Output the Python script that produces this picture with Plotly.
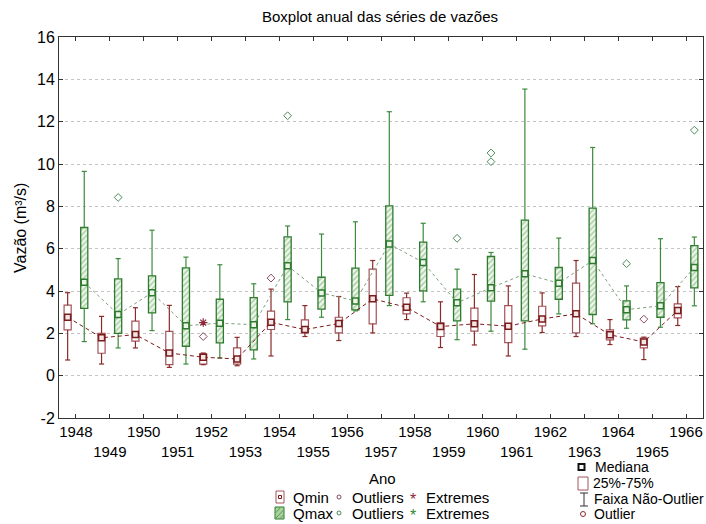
import plotly.graph_objects as go

# ---------------- data ----------------
years = list(range(1948, 1967))
tick_labels = [str(y) if i % 2 == 0 else "<br>" + str(y) for i, y in enumerate(years)]
y_ticks = list(range(-2, 17, 2))
y_tick_labels = [str(v) for v in y_ticks]

qmin_low = [0.74, 0.55, 1.31, 0.39, 0.52, 0.47, 0.93, 1.85, 1.66, 2.02, 2.65, 1.33, 1.45, 0.93, 2.04, 1.85, 1.47, 0.76, 2.37]
qmin_q1 = [2.16, 1.06, 1.63, 0.52, 0.55, 0.55, 2.18, 2.02, 2.02, 2.45, 2.92, 1.85, 2.10, 1.56, 2.35, 2.02, 1.69, 1.31, 2.73]
qmin_med = [2.76, 1.79, 1.94, 1.07, 0.87, 0.79, 2.52, 2.18, 2.46, 3.63, 3.23, 2.32, 2.45, 2.34, 2.68, 2.92, 1.93, 1.59, 3.08]
qmin_q3 = [3.33, 2.00, 2.58, 2.09, 1.03, 1.31, 3.05, 2.64, 2.76, 5.03, 3.68, 2.49, 3.19, 3.31, 3.28, 4.37, 2.16, 1.78, 3.39]
qmin_high = [3.92, 2.80, 3.21, 3.32, 1.07, 1.81, 4.09, 3.31, 3.74, 5.44, 3.90, 3.49, 4.78, 4.24, 3.91, 5.44, 2.65, 1.82, 4.21]
qmin_out_years = [1952, 1954, 1965]
qmin_out_vals = [1.85, 4.61, 2.67]
qmin_ext_years = [1952]
qmin_ext_vals = [2.51]

qmax_low = [1.61, 1.31, 2.13, 0.55, 0.84, 0.79, 2.65, 2.76, 3.06, 3.31, 3.49, 1.70, 2.10, 1.25, 2.92, 2.45, 2.24, 2.29, 3.30]
qmax_q1 = [3.18, 2.00, 2.97, 1.39, 1.55, 1.22, 3.49, 3.14, 3.11, 3.79, 4.01, 2.59, 3.52, 2.59, 3.61, 2.89, 2.64, 2.76, 4.15]
qmax_med = [4.41, 2.89, 3.92, 2.36, 2.48, 2.41, 5.19, 3.91, 3.53, 6.22, 5.35, 3.44, 4.15, 4.81, 4.37, 5.44, 3.12, 3.30, 5.11]
qmax_q3 = [7.00, 4.57, 4.71, 5.09, 3.61, 3.69, 6.56, 4.65, 5.08, 8.02, 6.31, 4.09, 5.63, 7.35, 5.11, 7.92, 3.53, 4.40, 6.14]
qmax_high = [9.65, 5.53, 6.87, 5.60, 5.24, 4.34, 7.07, 6.69, 7.27, 12.47, 7.20, 5.03, 5.82, 13.54, 6.50, 10.78, 4.24, 6.47, 6.55]
qmax_out_years = [1949, 1954, 1959, 1960, 1960, 1964, 1966]
qmax_out_vals = [8.42, 12.28, 6.49, 10.52, 10.11, 5.29, 11.60]

# ---------------- style ----------------
FONT = "Liberation Sans, Arial, sans-serif"
RED_BOX = "#a4545a"
RED_WH = "#8b2a2a"
RED_MED = "#7a1c1c"
GREEN = "#3c8a3c"
GREEN_DARK = "#2e7a2e"
OFF = 0.245
BOXW = 0.21
CAPW = 0.075

idx = list(range(len(years)))
x_min = [i - OFF for i in idx]
x_max = [i + OFF for i in idx]


def pos(yrs, off):
    return [years.index(y) + off for y in yrs]


def whiskers(xs, low, q1, q3, high):
    X, Y = [], []
    for x, lo, a, b, hi in zip(xs, low, q1, q3, high):
        X += [x, x, None, x, x, None, x - CAPW, x + CAPW, None, x - CAPW, x + CAPW, None]
        Y += [lo, a, None, b, hi, None, lo, lo, None, hi, hi, None]
    return X, Y


fig = go.Figure()

# boxes
fig.add_trace(go.Bar(
    x=x_min, y=[b - a for a, b in zip(qmin_q1, qmin_q3)], base=qmin_q1, width=BOXW,
    marker=dict(color="white", line=dict(color=RED_BOX, width=1.2)), hoverinfo="skip"))
fig.add_trace(go.Bar(
    x=x_max, y=[b - a for a, b in zip(qmax_q1, qmax_q3)], base=qmax_q1, width=BOXW,
    marker=dict(color="white", line=dict(color=GREEN_DARK, width=1.3),
                pattern=dict(shape="/", fgcolor="#5aa05a", bgcolor="#eef6ea", size=4, solidity=0.35)),
    hoverinfo="skip"))

# whiskers
wx, wy = whiskers(x_min, qmin_low, qmin_q1, qmin_q3, qmin_high)
fig.add_trace(go.Scatter(x=wx, y=wy, mode="lines", line=dict(color=RED_WH, width=1.2), hoverinfo="skip"))
wx, wy = whiskers(x_max, qmax_low, qmax_q1, qmax_q3, qmax_high)
fig.add_trace(go.Scatter(x=wx, y=wy, mode="lines", line=dict(color=GREEN, width=1.2), hoverinfo="skip"))

# medians + connecting lines
fig.add_trace(go.Scatter(
    x=x_min, y=qmin_med, mode="lines+markers",
    line=dict(color=RED_MED, width=1, dash="4px,3px"),
    marker=dict(symbol="square", size=6, color="#f3e6e6", line=dict(color=RED_MED, width=1.5))))
fig.add_trace(go.Scatter(
    x=x_max, y=qmax_med, mode="lines+markers",
    line=dict(color="#7a9f7a", width=1, dash="dot"),
    marker=dict(symbol="square", size=6, color="#eef6ea", line=dict(color=GREEN_DARK, width=1.5))))

# outliers / extremes
fig.add_trace(go.Scatter(
    x=pos(qmin_out_years, -OFF), y=qmin_out_vals, mode="markers",
    marker=dict(symbol="diamond-open", size=6, color="#8a4a5a", line=dict(width=1))))
fig.add_trace(go.Scatter(
    x=pos(qmin_ext_years, -OFF), y=qmin_ext_vals, mode="markers",
    marker=dict(symbol="asterisk-open", size=7, color="#8a2a3a", line=dict(width=1.2))))
fig.add_trace(go.Scatter(
    x=pos(qmax_out_years, OFF), y=qmax_out_vals, mode="markers",
    marker=dict(symbol="diamond-open", size=6, color="#4a8a5a", line=dict(width=1))))

# ---------------- layout ----------------
W, H = 706, 524
L, R, T, B = 59, 3, 37, 106
PW = W - L - R
PH = H - T - B


def px(x):
    return (x - L) / PW


def py(y):
    return (H - B - y) / PH


annotations = [
    dict(text="Boxplot anual das séries de vazões", x=px(380), y=py(17), font=dict(size=15)),
    dict(text="Vazão (m³/s)", x=px(21), y=py(228), textangle=-90, font=dict(size=16)),
    dict(text="Ano", x=px(382), y=py(478), font=dict(size=15)),
    dict(text="Qmin", x=px(291), y=py(497), xanchor="left", font=dict(size=15)),
    dict(text="Outliers", x=px(350), y=py(497), xanchor="left", font=dict(size=15)),
    dict(text="*", x=px(413), y=py(499), font=dict(size=16, color="#8a2a3a")),
    dict(text="Extremes", x=px(424), y=py(497), xanchor="left", font=dict(size=15)),
    dict(text="Qmax", x=px(291), y=py(513), xanchor="left", font=dict(size=15)),
    dict(text="Outliers", x=px(350), y=py(513), xanchor="left", font=dict(size=15)),
    dict(text="*", x=px(413), y=py(515), font=dict(size=16, color="#2e8a2e")),
    dict(text="Extremes", x=px(424), y=py(513), xanchor="left", font=dict(size=15)),
    dict(text="Mediana", x=px(593), y=py(467), xanchor="left", font=dict(size=14)),
    dict(text="25%-75%", x=px(591), y=py(483), xanchor="left", font=dict(size=14)),
    dict(text="Faixa Não-Outlier", x=px(592), y=py(499), xanchor="left", font=dict(size=14)),
    dict(text="Outlier", x=px(592), y=py(514), xanchor="left", font=dict(size=14)),
]
for a in annotations:
    a.update(xref="paper", yref="paper", showarrow=False, yanchor="middle")
    a.setdefault("xanchor", "center")


def rect(x0, y0, x1, y1, line, fill="rgba(0,0,0,0)", width=1):
    return dict(type="rect", xref="paper", yref="paper", x0=px(x0), x1=px(x1), y0=py(y0), y1=py(y1),
                line=dict(color=line, width=width), fillcolor=fill)


def circ(cx, cy, r, line):
    return dict(type="circle", xref="paper", yref="paper", x0=px(cx - r), x1=px(cx + r),
                y0=py(cy - r), y1=py(cy + r), line=dict(color=line, width=1))


def seg(x0, y0, x1, y1, color):
    return dict(type="line", xref="paper", yref="paper", x0=px(x0), x1=px(x1), y0=py(y0), y1=py(y1),
                line=dict(color=color, width=1))


shapes = [
    rect(276, 491, 284, 503, RED_BOX),
    rect(278.5, 495.5, 281.5, 498.5, RED_MED),
    rect(275, 507, 284, 519, GREEN_DARK, fill="#a9d39b"),
    seg(275.5, 513, 280, 508, "#5a9a5a"),
    seg(276, 518, 283.5, 510, "#5a9a5a"),
    seg(280, 518.5, 283.5, 515, "#5a9a5a"),
    circ(339, 497, 2, "#8a4a5a"),
    circ(339, 513, 2, "#4a8a5a"),
    rect(578.5, 464, 584.5, 470, "#111111", width=2),
    rect(578, 477, 588, 490, RED_BOX),
    seg(584, 493, 584, 506, "#333333"),
    seg(580, 493, 588, 493, "#333333"),
    seg(580, 506, 588, 506, "#333333"),
    circ(583, 514, 2.5, "#8a2a2a"),
]

fig.update_layout(
    width=W, height=H,
    margin=dict(l=L, r=R, t=T, b=B, pad=0),
    paper_bgcolor="white", plot_bgcolor="white",
    font=dict(family=FONT, size=14, color="black"),
    showlegend=False, barmode="overlay",
    annotations=annotations, shapes=shapes,
    xaxis=dict(range=[-0.5, len(years) - 0.5], tickvals=idx, ticktext=tick_labels, tickangle=0,
               ticks="inside", ticklen=4, tickcolor="#333333", showline=True, linecolor="#333333",
               mirror="ticks", showgrid=False, zeroline=False, tickfont=dict(size=15)),
    yaxis=dict(range=[-2, 16], tickvals=y_ticks, ticktext=y_tick_labels, ticks="inside", ticklen=4,
               tickcolor="#333333", showline=True, linecolor="#333333", mirror="ticks",
               showgrid=True, gridcolor="#c4c4c4", griddash="dot", gridwidth=1, zeroline=False,
               tickfont=dict(size=16)),
)

fig.write_html("out.html")
